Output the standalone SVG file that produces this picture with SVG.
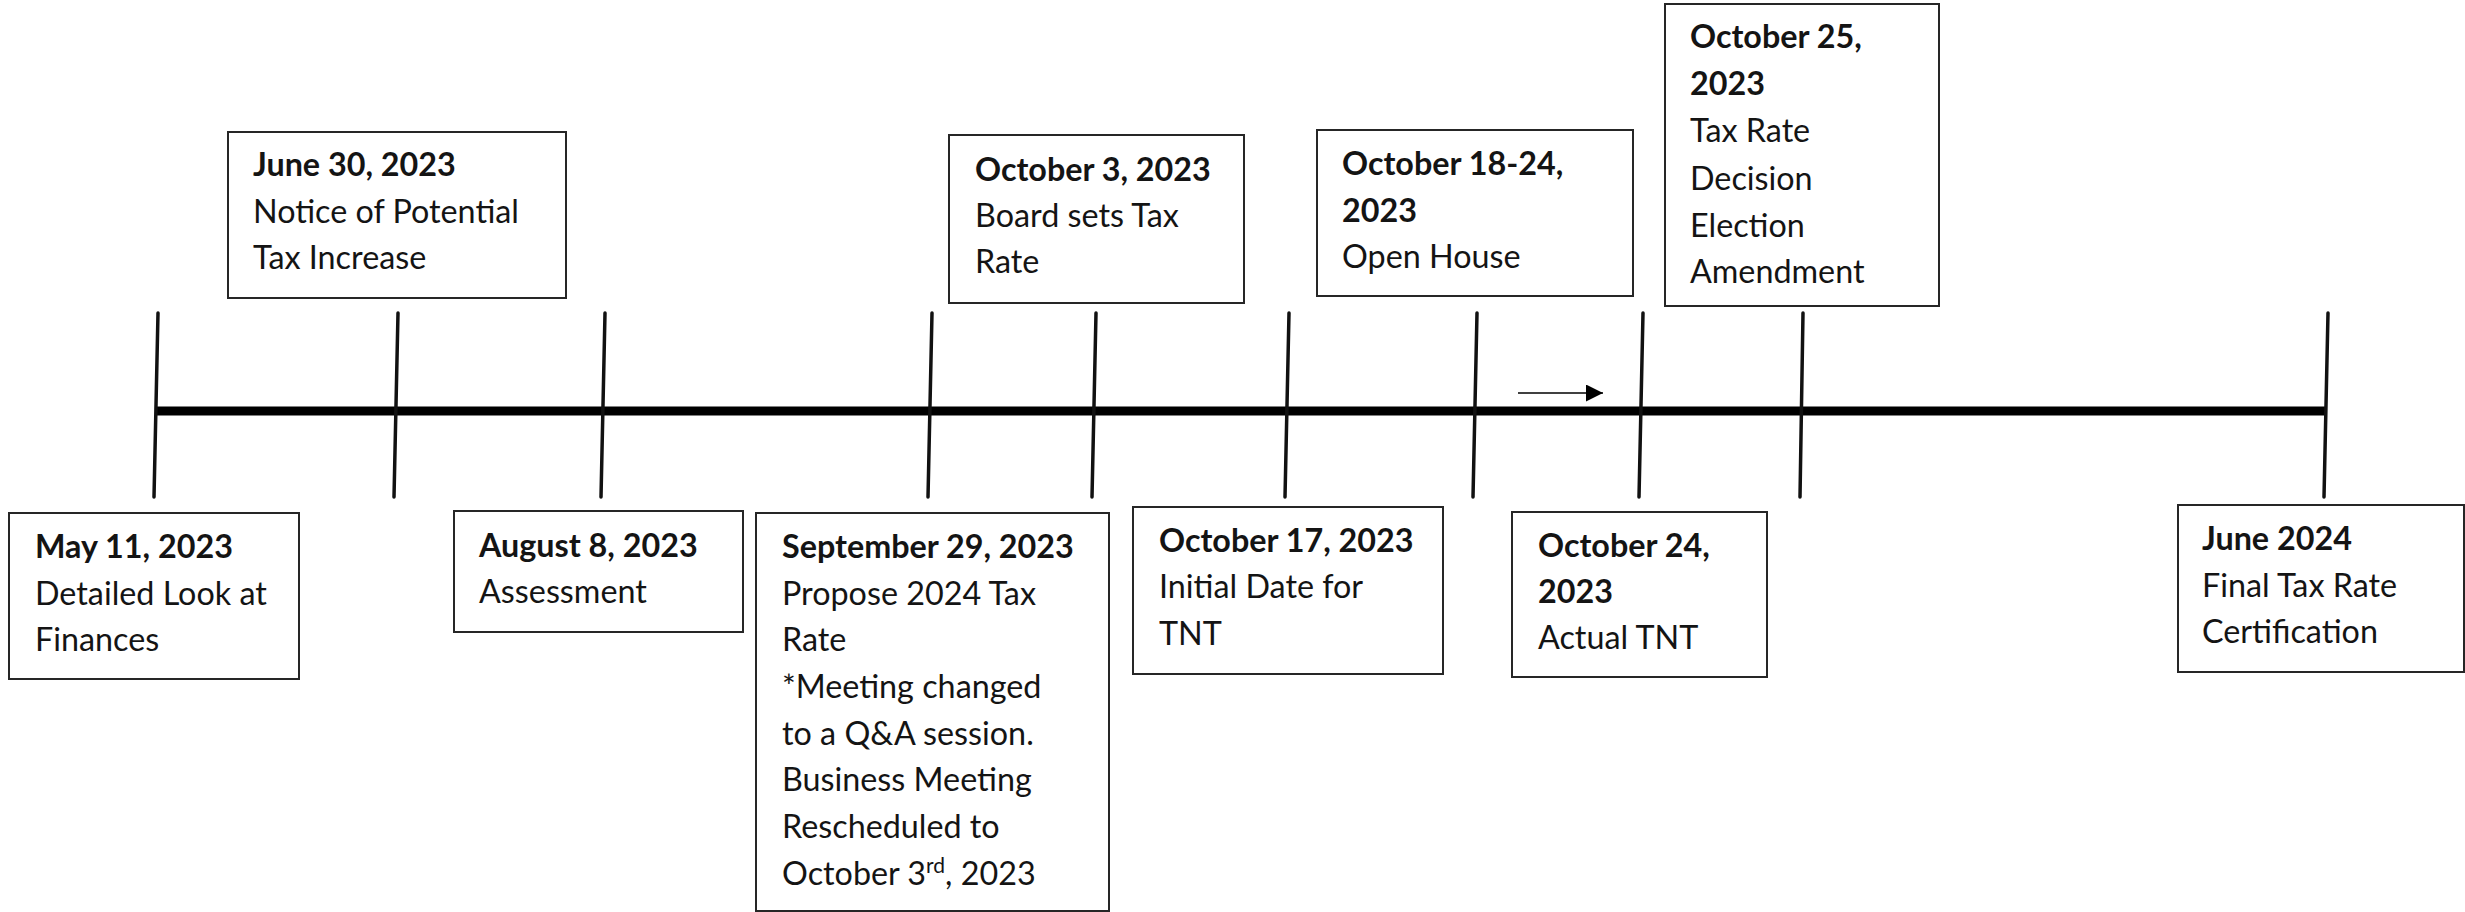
<svg xmlns="http://www.w3.org/2000/svg" width="2465" height="912" viewBox="0 0 2465 912">
<style>
.box{fill:#fff;stroke:#262626;stroke-width:2}
.t{font-family:Lato,"Open Sans","Liberation Sans",sans-serif;font-size:32.3px;fill:#141414}
.b{font-weight:bold}
.tick{stroke:#111;stroke-width:3.5;stroke-linecap:round}
.axis{stroke:#000;stroke-width:9}
.arr{stroke:#000;stroke-width:1.6}
</style>
<defs>
<marker id="ah" viewBox="0 0 10 10" refX="10" refY="5" markerWidth="19" markerHeight="17" markerUnits="userSpaceOnUse" orient="auto">
<path d="M0,0 L10,5 L0,10 z" fill="#000"/>
</marker>
</defs>
<rect width="2465" height="912" fill="#fff"/>
<g id="connectors">
<line class="axis" x1="155" y1="411" x2="2326" y2="411"/>
<line class="tick" x1="158" y1="313" x2="154" y2="497"/>
<line class="tick" x1="398" y1="313" x2="394" y2="497"/>
<line class="tick" x1="605" y1="313" x2="601" y2="497"/>
<line class="tick" x1="932" y1="313" x2="928" y2="497"/>
<line class="tick" x1="1096" y1="313" x2="1092" y2="497"/>
<line class="tick" x1="1289" y1="313" x2="1285" y2="497"/>
<line class="tick" x1="1477" y1="313" x2="1473" y2="497"/>
<line class="tick" x1="1643" y1="313" x2="1639" y2="497"/>
<line class="tick" x1="1803" y1="313" x2="1800" y2="497"/>
<line class="tick" x1="2328" y1="313" x2="2324" y2="497"/>
<line class="arr" x1="1518" y1="393" x2="1603" y2="393" marker-end="url(#ah)"/>
</g>
<g id="may11">
<rect class="box" x="9" y="513" width="290" height="166"/>
<text class="t b" x="35" y="558">May 11, 2023</text>
<text class="t" x="35" y="605">Detailed Look at</text>
<text class="t" x="35" y="651">Finances</text>
</g>
<g id="june30">
<rect class="box" x="228" y="132" width="338" height="166"/>
<text class="t b" x="253" y="176">June 30, 2023</text>
<text class="t" x="253" y="223">Notice of Potential</text>
<text class="t" x="253" y="269">Tax Increase</text>
</g>
<g id="aug8">
<rect class="box" x="454" y="511" width="289" height="121"/>
<text class="t b" x="479" y="557">August 8, 2023</text>
<text class="t" x="479" y="603">Assessment</text>
</g>
<g id="sep29">
<rect class="box" x="756" y="513" width="353" height="398"/>
<text class="t b" x="782" y="558">September 29, 2023</text>
<text class="t" x="782" y="604.7">Propose 2024 Tax</text>
<text class="t" x="782" y="651.3">Rate</text>
<text class="t" x="782" y="698">*Meeting changed</text>
<text class="t" x="782" y="744.7">to a Q&amp;A session.</text>
<text class="t" x="782" y="791.3">Business Meeting</text>
<text class="t" x="782" y="838">Rescheduled to</text>
<text class="t" x="782" y="884.7">October 3<tspan font-size="21" dy="-12">rd</tspan><tspan dy="12">, 2023</tspan></text>
</g>
<g id="oct3">
<rect class="box" x="949" y="135" width="295" height="168"/>
<text class="t b" x="975" y="181">October 3, 2023</text>
<text class="t" x="975" y="227">Board sets Tax</text>
<text class="t" x="975" y="273">Rate</text>
</g>
<g id="oct17">
<rect class="box" x="1133" y="507" width="310" height="167"/>
<text class="t b" x="1159" y="552">October 17, 2023</text>
<text class="t" x="1159" y="598">Initial Date for</text>
<text class="t" x="1159" y="645">TNT</text>
</g>
<g id="oct18">
<rect class="box" x="1317" y="130" width="316" height="166"/>
<text class="t b" x="1342" y="175">October 18-24,</text>
<text class="t b" x="1342" y="222">2023</text>
<text class="t" x="1342" y="268">Open House</text>
</g>
<g id="oct24">
<rect class="box" x="1512" y="512" width="255" height="165"/>
<text class="t b" x="1538" y="557">October 24,</text>
<text class="t b" x="1538" y="603">2023</text>
<text class="t" x="1538" y="649">Actual TNT</text>
</g>
<g id="oct25">
<rect class="box" x="1665" y="4" width="274" height="302"/>
<text class="t b" x="1690" y="48">October 25,</text>
<text class="t b" x="1690" y="95">2023</text>
<text class="t" x="1690" y="142">Tax Rate</text>
<text class="t" x="1690" y="190">Decision</text>
<text class="t" x="1690" y="237">Election</text>
<text class="t" x="1690" y="283">Amendment</text>
</g>
<g id="june2024">
<rect class="box" x="2178" y="505" width="286" height="167"/>
<text class="t b" x="2202" y="550">June 2024</text>
<text class="t" x="2202" y="597">Final Tax Rate</text>
<text class="t" x="2202" y="643">Certification</text>
</g>
</svg>
